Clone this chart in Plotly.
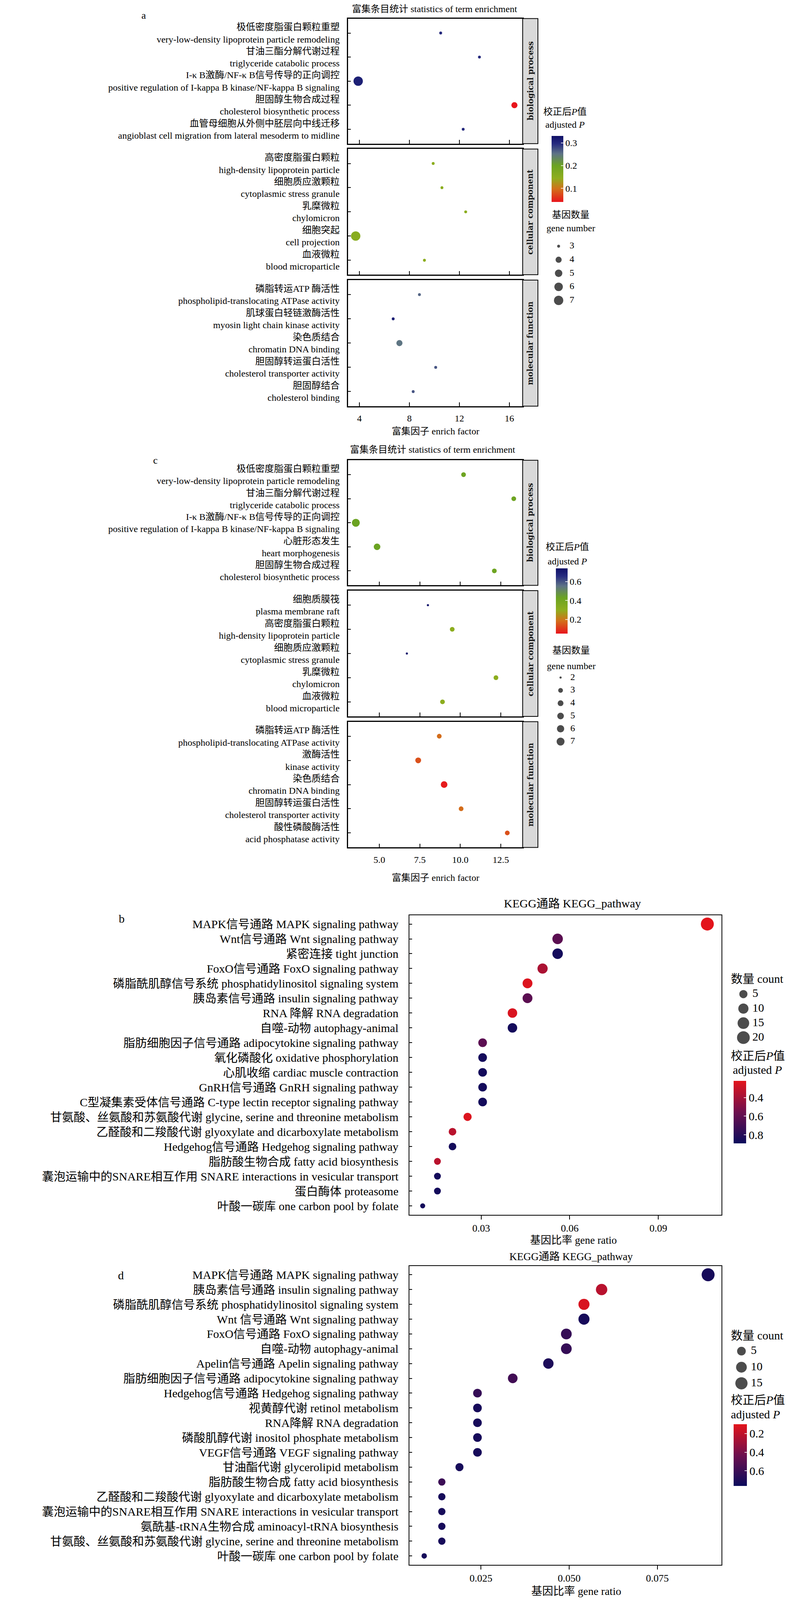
import plotly.graph_objects as go

# Reference canvas is 2030 x 4822; the browser viewport only shows 4096 px of height,
# so the whole layout is laid out on the reference grid and compressed vertically to fit.
W, H_REF = 2030, 4822
H = 4096
S = H / H_REF            # vertical compression factor
MS = S ** 0.5            # marker size factor
FONT = "Liberation Serif, Noto Sans CJK SC, serif"

# ======================= DATA =======================
# ---- panel a : GO enrichment (enrich factor) ----
a_bp_cn = ["极低密度脂蛋白颗粒重塑", "甘油三酯分解代谢过程", "I-κ B激酶/NF-κ B信号传导的正向调控",
           "胆固醇生物合成过程", "血管母细胞从外侧中胚层向中线迁移"]
a_bp_en = ["very-low-density lipoprotein particle remodeling", "triglyceride catabolic process",
           "positive regulation of I-kappa B kinase/NF-kappa B signaling", "cholesterol biosynthetic process",
           "angioblast cell migration from lateral mesoderm to midline"]
a_bp_factor = [10.5, 13.6, 3.9, 16.4, 12.3]
a_bp_count = [3, 3, 7, 4, 3]
a_bp_padj = [0.30, 0.30, 0.31, 0.04, 0.30]

a_cc_cn = ["高密度脂蛋白颗粒", "细胞质应激颗粒", "乳糜微粒", "细胞突起", "血液微粒"]
a_cc_en = ["high-density lipoprotein particle", "cytoplasmic stress granule", "chylomicron",
           "cell projection", "blood microparticle"]
a_cc_factor = [9.9, 10.6, 12.5, 3.7, 9.2]
a_cc_count = [3, 3, 3, 7, 3]
a_cc_padj = [0.15, 0.15, 0.15, 0.155, 0.15]

a_mf_cn = ["磷脂转运ATP 酶活性", "肌球蛋白轻链激酶活性", "染色质结合", "胆固醇转运蛋白活性", "胆固醇结合"]
a_mf_en = ["phospholipid-translocating ATPase activity", "myosin light chain kinase activity",
           "chromatin DNA binding", "cholesterol transporter activity", "cholesterol binding"]
a_mf_factor = [8.8, 6.7, 7.2, 10.1, 8.3]
a_mf_count = [3, 3, 4, 3, 3]
a_mf_padj = [0.26, 0.31, 0.25, 0.27, 0.27]

a_x_ticks = [4, 8, 12, 16]
a_p_ticks = [0.1, 0.2, 0.3]
a_size_breaks = [3, 4, 5, 6, 7]

# ---- panel c : GO enrichment (enrich factor) ----
c_bp_cn = ["极低密度脂蛋白颗粒重塑", "甘油三酯分解代谢过程", "I-κ B激酶/NF-κ B信号传导的正向调控",
           "心脏形态发生", "胆固醇生物合成过程"]
c_bp_en = ["very-low-density lipoprotein particle remodeling", "triglyceride catabolic process",
           "positive regulation of I-kappa B kinase/NF-kappa B signaling", "heart morphogenesis",
           "cholesterol biosynthetic process"]
c_bp_factor = [10.2, 13.3, 3.55, 4.86, 12.1]
c_bp_count = [3, 3, 7, 5, 3]
c_bp_padj = [0.42, 0.42, 0.43, 0.43, 0.42]

c_cc_cn = ["细胞质膜筏", "高密度脂蛋白颗粒", "细胞质应激颗粒", "乳糜微粒", "血液微粒"]
c_cc_en = ["plasma membrane raft", "high-density lipoprotein particle", "cytoplasmic stress granule",
           "chylomicron", "blood microparticle"]
c_cc_factor = [8.0, 9.5, 6.7, 12.2, 8.9]
c_cc_count = [2, 3, 2, 3, 3]
c_cc_padj = [0.72, 0.31, 0.72, 0.31, 0.31]

c_mf_cn = ["磷脂转运ATP 酶活性", "激酶活性", "染色质结合", "胆固醇转运蛋白活性", "酸性磷酸酶活性"]
c_mf_en = ["phospholipid-translocating ATPase activity", "kinase activity", "chromatin DNA binding",
           "cholesterol transporter activity", "acid phosphatase activity"]
c_mf_factor = [8.7, 7.4, 9.0, 10.05, 12.9]
c_mf_count = [3, 4, 5, 3, 3]
c_mf_padj = [0.18, 0.14, 0.06, 0.18, 0.14]

c_x_ticks = [5.0, 7.5, 10.0, 12.5]
c_p_ticks = [0.2, 0.4, 0.6]
c_size_breaks = [2, 3, 4, 5, 6, 7]

# ---- panel b : KEGG (gene ratio) ----
b_terms = ["MAPK信号通路 MAPK signaling pathway", "Wnt信号通路 Wnt signaling pathway", "紧密连接 tight junction",
           "FoxO信号通路 FoxO signaling pathway", "磷脂酰肌醇信号系统 phosphatidylinositol signaling system",
           "胰岛素信号通路 insulin signaling pathway", "RNA 降解 RNA degradation", "自噬-动物 autophagy-animal",
           "脂肪细胞因子信号通路 adipocytokine signaling pathway", "氧化磷酸化 oxidative phosphorylation",
           "心肌收缩 cardiac muscle contraction", "GnRH信号通路 GnRH signaling pathway",
           "C型凝集素受体信号通路 C-type lectin receptor signaling pathway",
           "甘氨酸、丝氨酸和苏氨酸代谢 glycine, serine and threonine metabolism",
           "乙醛酸和二羧酸代谢 glyoxylate and dicarboxylate metabolism",
           "Hedgehog信号通路 Hedgehog signaling pathway", "脂肪酸生物合成 fatty acid biosynthesis",
           "囊泡运输中的SNARE相互作用 SNARE interactions in vesicular transport", "蛋白酶体 proteasome",
           "叶酸一碳库 one carbon pool by folate"]
b_ratio = [0.1066, 0.0559, 0.0559, 0.0508, 0.0457, 0.0457, 0.0406, 0.0406, 0.0305, 0.0305,
           0.0305, 0.0305, 0.0305, 0.0254, 0.0203, 0.0203, 0.0152, 0.0152, 0.0152, 0.0102]
b_count = [21, 11, 11, 10, 9, 9, 8, 8, 6, 6, 6, 6, 6, 5, 4, 4, 3, 3, 3, 2]
b_padj = [0.22, 0.62, 0.86, 0.38, 0.24, 0.62, 0.25, 0.86, 0.62, 0.86,
          0.86, 0.86, 0.86, 0.24, 0.34, 0.86, 0.34, 0.86, 0.86, 0.86]
b_x_ticks = [0.03, 0.06, 0.09]
b_p_ticks = [0.4, 0.6, 0.8]
b_size_breaks = [5, 10, 15, 20]

# ---- panel d : KEGG (gene ratio) ----
d_terms = ["MAPK信号通路 MAPK signaling pathway", "胰岛素信号通路 insulin signaling pathway",
           "磷脂酰肌醇信号系统 phosphatidylinositol signaling system", "Wnt 信号通路 Wnt signaling pathway",
           "FoxO信号通路 FoxO signaling pathway", "自噬-动物 autophagy-animal",
           "Apelin信号通路 Apelin signaling pathway", "脂肪细胞因子信号通路 adipocytokine signaling pathway",
           "Hedgehog信号通路 Hedgehog signaling pathway", "视黄醇代谢 retinol metabolism",
           "RNA降解 RNA degradation", "磷酸肌醇代谢 inositol phosphate metabolism",
           "VEGF信号通路 VEGF signaling pathway", "甘油酯代谢 glycerolipid metabolism",
           "脂肪酸生物合成 fatty acid biosynthesis", "乙醛酸和二羧酸代谢 glyoxylate and dicarboxylate metabolism",
           "囊泡运输中的SNARE相互作用 SNARE interactions in vesicular transport",
           "氨酰基-tRNA生物合成 aminoacyl-tRNA biosynthesis",
           "甘氨酸、丝氨酸和苏氨酸代谢 glycine, serine and threonine metabolism",
           "叶酸一碳库 one carbon pool by folate"]
d_ratio = [0.0894, 0.0592, 0.0542, 0.0542, 0.0492, 0.0492, 0.0441, 0.0340, 0.0240, 0.0240,
           0.0240, 0.0240, 0.0240, 0.0189, 0.0139, 0.0139, 0.0139, 0.0139, 0.0139, 0.0089]
d_count = [18, 12, 11, 11, 10, 10, 9, 7, 5, 5, 5, 5, 5, 4, 3, 3, 3, 3, 3, 2]
d_padj = [0.72, 0.22, 0.13, 0.72, 0.62, 0.62, 0.70, 0.58, 0.62, 0.72,
          0.72, 0.72, 0.72, 0.72, 0.60, 0.72, 0.72, 0.72, 0.72, 0.72]
d_x_ticks = [0.025, 0.050, 0.075]
d_p_ticks = [0.2, 0.4, 0.6]
d_size_breaks = [5, 10, 15]

# ======================= STYLE =======================
GO_SCALE = [[0.0, "#E8141C"], [0.2, "#D2711A"], [0.36, "#8FAE1E"], [0.55, "#6BA322"],
            [0.73, "#5E7386"], [0.88, "#272C80"], [1.0, "#0F0F66"]]
KEGG_SCALE = [[0.0, "#0B0B5C"], [0.5, "#6E0F4E"], [1.0, "#E3141B"]]

fig = go.Figure()
layout = {}
annotations = []
shapes = []
n_axes = [0]


def xp(px):
    return px / W


def yp(py):                      # py measured on the 4822-px reference grid
    return 1 - py / H_REF


def next_axes():
    n_axes[0] += 1
    i = n_axes[0]
    s = "" if i == 1 else str(i)
    return "x" + s, "y" + s, "xaxis" + s, "yaxis" + s


def sizer(cmin, cmax, dmin, dmax):
    def f(c):
        return MS * (dmin + (dmax - dmin) * max(0.0, (c - cmin) / (cmax - cmin)) ** 0.5)
    return f


def add_dot_panel(labels, xs, counts, colorvals, cax, box, xrange, xticks, show_xlab, size_fn,
                  fs, xfs, xtick_inside, xticklen, x_standoff, y_standoff, linew, xtickformat=None):
    xa, ya, xk, yk = next_axes()
    fig.add_trace(go.Scatter(
        x=xs, y=labels, mode="markers",
        marker=dict(size=[size_fn(c) for c in counts], color=colorvals, coloraxis=cax,
                    line=dict(width=0), opacity=1),
        xaxis=xa, yaxis=ya, showlegend=False, hoverinfo="skip", cliponaxis=False))
    x0, x1, y0, y1 = box
    layout[xk] = dict(domain=[xp(x0), xp(x1)], anchor=ya, range=xrange, tickvals=xticks,
                      tickformat=xtickformat, ticks="inside" if xtick_inside else "outside",
                      ticklen=xticklen, tickwidth=2, tickcolor="black", showticklabels=show_xlab,
                      ticklabelstandoff=x_standoff,
                      tickfont=dict(family=FONT, size=xfs, color="black"),
                      showline=True, mirror=True, linecolor="black", linewidth=linew,
                      showgrid=False, zeroline=False, fixedrange=True)
    layout[yk] = dict(domain=[yp(y1), yp(y0)], anchor=xa, type="category", categoryorder="array",
                      categoryarray=labels[::-1], range=[-0.6, len(labels) - 0.4],
                      ticks="inside", ticklen=7, tickwidth=2, tickcolor="black",
                      ticklabelstandoff=y_standoff,
                      tickfont=dict(family=FONT, size=fs, color="black"),
                      showline=True, mirror=True, linecolor="black", linewidth=linew,
                      showgrid=False, zeroline=False, fixedrange=True)


def add_strip(x0, x1, y0, y1, text, fs):
    shapes.append(dict(type="rect", xref="paper", yref="paper", x0=xp(x0), x1=xp(x1),
                       y0=yp(y1), y1=yp(y0), fillcolor="#D9D9D9",
                       line=dict(color="black", width=2), layer="above"))
    annotations.append(dict(x=xp((x0 + x1) / 2), y=yp((y0 + y1) / 2), xref="paper", yref="paper",
                            text="<b>" + text + "</b>", textangle=-90, showarrow=False,
                            font=dict(family="DejaVu Serif", size=fs, color="#1A1A1A"),
                            xanchor="center", yanchor="middle"))


def label(px, py, text, fs, xanchor="center"):
    annotations.append(dict(x=xp(px), y=yp(py), xref="paper", yref="paper", text=text,
                            showarrow=False, font=dict(family=FONT, size=fs, color="black"),
                            xanchor=xanchor, yanchor="middle", align="left"))


def add_size_legend(breaks, size_fn, dot_x, label_x, y_first, y_step, fs):
    xa, ya, xk, yk = next_axes()
    n = len(breaks)
    half = label_x - dot_x
    idx = list(range(n))
    fig.add_trace(go.Scatter(x=[0] * n, y=idx, mode="markers",
                             marker=dict(size=[size_fn(b) for b in breaks], color="black",
                                         line=dict(width=0)),
                             xaxis=xa, yaxis=ya, showlegend=False, hoverinfo="skip", cliponaxis=False))
    fig.add_trace(go.Scatter(x=[1] * n, y=idx, mode="text", text=[str(b) for b in breaks],
                             textposition="middle right",
                             textfont=dict(family=FONT, size=fs, color="black"),
                             xaxis=xa, yaxis=ya, showlegend=False, hoverinfo="skip", cliponaxis=False))
    layout[xk] = dict(domain=[xp(dot_x - half), xp(dot_x + half)], anchor=ya, range=[-1, 1],
                      visible=False, fixedrange=True)
    y_last = y_first + y_step * (n - 1)
    layout[yk] = dict(domain=[yp(y_last + y_step / 2), yp(y_first - y_step / 2)], anchor=xa,
                      range=[n - 0.5, -0.5], visible=False, fixedrange=True)


def cbar(bar_x, bar_top, bar_len, bar_w, tickvals, ticktext, fs):
    return dict(x=xp(bar_x), xanchor="left", y=yp(bar_top), yanchor="top", len=bar_len * S,
                lenmode="pixels", thickness=bar_w, thicknessmode="pixels", xpad=0, ypad=0,
                outlinewidth=0, ticks="inside", ticklen=6, tickwidth=2,
                tickcolor="rgba(255,255,255,0.8)", tickvals=tickvals, ticktext=ticktext,
                tickfont=dict(family=FONT, size=fs, color="black"), title=dict(text=""))


def two_line(cn, en):
    return [f"{c}<br>{e}" for c, e in zip(cn, en)]


# ======================= PANEL a =======================
FS_A = 24
size_a = sizer(3, 7, 8, 26)
A_X0, A_X1, A_S1 = 891, 1338, 1377
a_xrange = [3.09, 17.06]
a_boxes = [(56, 433), (449, 828), (844, 1224)]
a_sets = [(a_bp_cn, a_bp_en, a_bp_factor, a_bp_count, a_bp_padj, "biological process"),
          (a_cc_cn, a_cc_en, a_cc_factor, a_cc_count, a_cc_padj, "cellular component"),
          (a_mf_cn, a_mf_en, a_mf_factor, a_mf_count, a_mf_padj, "molecular function")]
for k, ((cn, en, fx, cnt, pv, strip), (y0, y1)) in enumerate(zip(a_sets, a_boxes)):
    add_dot_panel(two_line(cn, en), fx, cnt, pv, "coloraxis", (A_X0, A_X1, y0, y1), a_xrange,
                  a_x_ticks, k == 2, size_a, FS_A, FS_A, True, 10, 8, 14, 2.5)
    add_strip(A_X1, A_S1, y0, y1, strip, 20)

label(1112, 27, "富集条目统计 statistics of term enrichment", FS_A)
label(368, 47, "a", 26)
label(1115, 1300, "富集因子 enrich factor", FS_A)
label(1446, 337, "校正后<i>P</i>值", FS_A)
label(1446, 375, "adjusted <i>P</i>", FS_A)
label(1461, 648, "基因数量", FS_A)
label(1461, 687, "gene number", FS_A)
add_size_legend(a_size_breaks, size_a, 1430, 1458, 742, 40.8, FS_A)

# ======================= PANEL c =======================
size_c = sizer(2, 7, 6, 22)
c_xrange = [3.07, 13.85]
c_boxes = [(1387, 1764), (1780, 2159), (2175, 2554)]
c_sets = [(c_bp_cn, c_bp_en, c_bp_factor, c_bp_count, c_bp_padj, "biological process"),
          (c_cc_cn, c_cc_en, c_cc_factor, c_cc_count, c_cc_padj, "cellular component"),
          (c_mf_cn, c_mf_en, c_mf_factor, c_mf_count, c_mf_padj, "molecular function")]
for k, ((cn, en, fx, cnt, pv, strip), (y0, y1)) in enumerate(zip(c_sets, c_boxes)):
    add_dot_panel(two_line(cn, en), fx, cnt, pv, "coloraxis2", (A_X0, A_X1, y0, y1), c_xrange,
                  c_x_ticks, k == 2, size_c, FS_A, FS_A, True, 10, 8, 14, 2.5, xtickformat=".1f")
    add_strip(A_X1, A_S1, y0, y1, strip, 20)

label(1107, 1355, "富集条目统计 statistics of term enrichment", FS_A)
label(398, 1387, "c", 26)
label(1115, 2645, "富集因子 enrich factor", FS_A)
label(1452, 1648, "校正后<i>P</i>值", FS_A)
label(1452, 1692, "adjusted <i>P</i>", FS_A)
label(1462, 1960, "基因数量", FS_A)
label(1462, 2007, "gene number", FS_A)
add_size_legend(c_size_breaks, size_c, 1435, 1460, 2042, 38.6, FS_A)

# ======================= PANEL b =======================
FS_B = 30
FS_BX = 26
size_b = sizer(2, 21, 14, 36)
add_dot_panel(b_terms, b_ratio, b_count, [-p for p in b_padj], "coloraxis3",
              (1048, 1847, 2758, 3661), [0.0057, 0.1114], b_x_ticks, True, size_b, FS_B, FS_BX,
              False, 10, 0, 20, 2, xtickformat=".2f")
label(1465, 2722, "KEGG通路 KEGG_pathway", FS_B)
label(311, 2768, "b", 30)
label(1468, 3738, "基因比率 gene ratio", 27)
label(1869, 2950, "数量 count", FS_B, xanchor="left")
add_size_legend(b_size_breaks, size_b, 1903, 1926, 2996, 43.7, FS_B)
label(1869, 3181, "校正后<i>P</i>值", FS_B, xanchor="left")
label(1874, 3224, "adjusted <i>P</i>", FS_B, xanchor="left")

# ======================= PANEL d =======================
size_d = sizer(2, 18, 15, 36)
add_dot_panel(d_terms, d_ratio, d_count, [-p for p in d_padj], "coloraxis4",
              (1048, 1847, 3815, 4716), [0.0047, 0.0932], d_x_ticks, True, size_d, FS_B, FS_BX,
              False, 10, 0, 20, 2, xtickformat=".3f")
label(1462, 3787, "KEGG通路 KEGG_pathway", 27)
label(309, 3843, "d", 30)
label(1475, 4796, "基因比率 gene ratio", 28)
label(1869, 4024, "数量 count", FS_B, xanchor="left")
add_size_legend(d_size_breaks, size_d, 1898, 1922, 4072, 48.5, FS_B)
label(1869, 4219, "校正后<i>P</i>值", FS_B, xanchor="left")
label(1869, 4262, "adjusted <i>P</i>", FS_B, xanchor="left")

# ======================= COLOUR AXES =======================
layout["coloraxis"] = dict(colorscale=GO_SCALE, cmin=0.04, cmax=0.33,
                           colorbar=cbar(1412, 410, 199, 30, a_p_ticks, [str(v) for v in a_p_ticks], FS_A))
layout["coloraxis2"] = dict(colorscale=GO_SCALE, cmin=0.05, cmax=0.74,
                            colorbar=cbar(1423, 1713, 197, 30, c_p_ticks, [str(v) for v in c_p_ticks], FS_A))
layout["coloraxis3"] = dict(colorscale=KEGG_SCALE, cmin=-0.89, cmax=-0.22,
                            colorbar=cbar(1878, 3257, 188, 32, [-v for v in b_p_ticks],
                                          [str(v) for v in b_p_ticks], FS_B))
layout["coloraxis4"] = dict(colorscale=KEGG_SCALE, cmin=-0.76, cmax=-0.10,
                            colorbar=cbar(1878, 4292, 186, 34, [-v for v in d_p_ticks],
                                          [str(v) for v in d_p_ticks], FS_B))

fig.update_layout(**layout)
fig.update_layout(width=W, height=H, margin=dict(l=0, r=0, t=0, b=0),
                  paper_bgcolor="white", plot_bgcolor="white",
                  font=dict(family=FONT, size=FS_A, color="black"),
                  annotations=annotations, shapes=shapes, showlegend=False)

fig.write_html("out.html", config={"displayModeBar": False},
               post_script="document.body.style.margin = '0';")
